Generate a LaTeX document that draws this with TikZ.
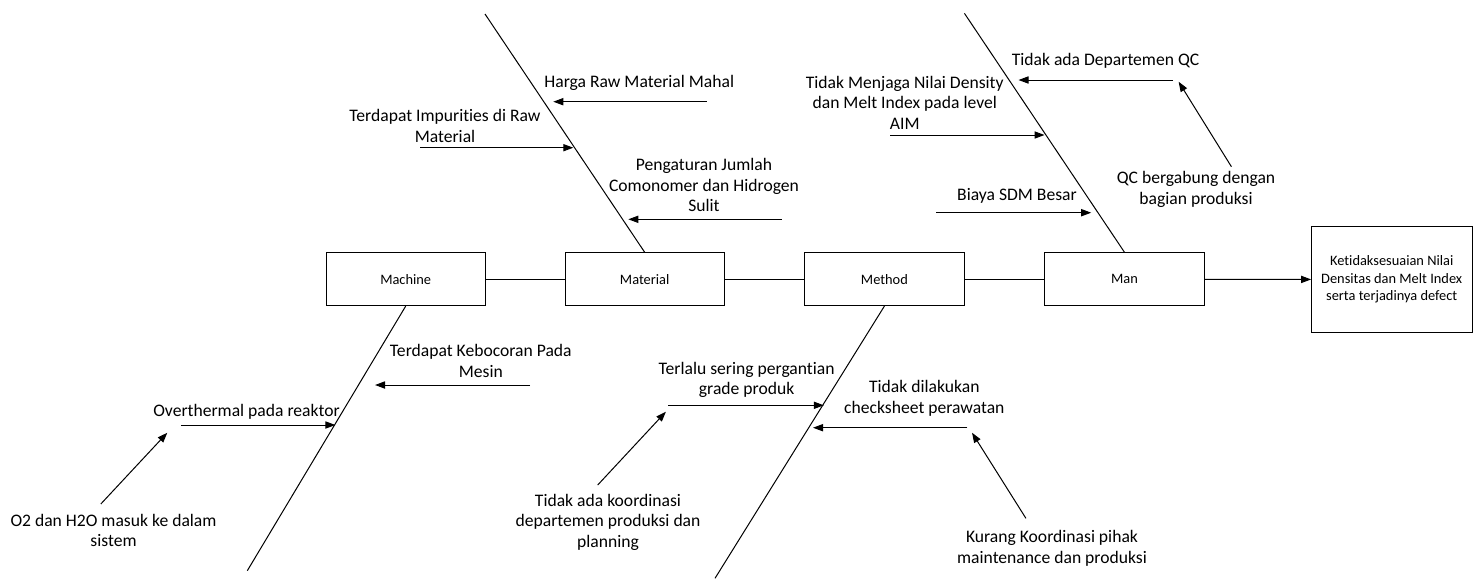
\documentclass[tikz,border=0pt]{standalone}
\usepackage{fontspec}
\setmainfont[Ligatures=CommonOff]{Carlito}
\usetikzlibrary{arrows.meta}

\begin{document}
\begin{tikzpicture}[x=0.5pt,y=-0.5pt,
  box/.style={draw, minimum width=79.8pt, minimum height=26.5pt, inner sep=0pt,
    font=\fontsize{7.2}{8.75}\selectfont},
  cause/.style={align=center, inner sep=0pt, font=\fontsize{8.8}{10.35}\selectfont},
  arr/.style={-{Triangle[length=5pt,width=3.6pt]}, line width=0.5pt}]
  \useasboundingbox (0,0) rectangle (1475,580);

  % head boxes on the main line
  \node[box] (machine) at (405.7,279.2) {Machine};
  \node[box] (material) at (644.7,279.2) {Material};
  \node[box] (method) at (884.4,279.2) {Method};
  \node[box] (man) at (1124.5,279.2) {Man};
  \node[box, minimum height=52.8pt, minimum width=80.2pt, align=center] (effect) at (1391.7,279.5)
    {Ketidaksesuaian Nilai\\Densitas dan Melt Index\\serta terjadinya defect};
  \draw[line width=0.5pt] (machine) -- (material) -- (method) -- (man);
  \draw[arr] (man) -- (effect);

  % bones
  \coordinate (machineEnd) at (247.3,570.7);
  \coordinate (materialEnd) at (485,14);
  \coordinate (methodEnd) at (715,578.3);
  \coordinate (manEnd) at (964.4,13.3);
  \draw[line width=0.5pt] (machine.south) -- (machineEnd);
  \draw[line width=0.5pt] (material.north) -- (materialEnd);
  \draw[line width=0.5pt] (method.south) -- (methodEnd);
  \draw[line width=0.5pt] (man.north) -- (manEnd);

  % Material causes
  \node[cause] (harga) at (639.2,82.7) {Harga Raw Material Mahal};
  \node[cause] (impurities) at (445,126) {Terdapat Impurities di Raw\\Material};
  \node[cause] (pengaturan) at (704,185.2) {Pengaturan Jumlah\\Comonomer dan Hidrogen\\Sulit};
  \coordinate (hargaA) at (706.7,101.7);   \coordinate (hargaB) at (553.3,101.7);
  \coordinate (impA) at (420,147.7);       \coordinate (impB) at (573.3,147.7);
  \coordinate (pengA) at (781.7,219.3);    \coordinate (pengB) at (628.3,219.3);
  \draw[arr] (hargaA) -- (hargaB);
  \draw[arr] (impA) -- (impB);
  \draw[arr] (pengA) -- (pengB);

  % Man causes
  \node[cause] (noqc) at (1105.5,61) {Tidak ada Departemen QC};
  \node[cause] (qcjoin) at (1196,189.2) {QC bergabung dengan\\bagian produksi};
  \node[cause] (menjaga) at (904.7,102.8) {Tidak Menjaga Nilai Density\\dan Melt Index pada level\\AIM};
  \node[cause] (biaya) at (1017,195.7) {Biaya SDM Besar};
  \coordinate (noqcA) at (1173,80);        \coordinate (noqcB) at (1018.5,80);
  \coordinate (qcjoinA) at (1231.4,166.7); \coordinate (qcjoinB) at (1178.6,81.7);
  \coordinate (menjagaA) at (890,135);     \coordinate (menjagaB) at (1044.5,135);
  \coordinate (biayaA) at (936.3,212.7);   \coordinate (biayaB) at (1091.2,212.7);
  \draw[arr] (noqcA) -- (noqcB);
  \draw[arr] (qcjoinA) -- (qcjoinB);
  \draw[arr] (menjagaA) -- (menjagaB);
  \draw[arr] (biayaA) -- (biayaB);

  % Machine causes
  \node[cause] (bocor) at (480.8,360.8) {Terdapat Kebocoran Pada\\Mesin};
  \node[cause] (overthermal) at (246.5,411.7) {Overthermal pada reaktor};
  \node[cause] (oksigen) at (113.5,530.3) {O2 dan H2O masuk ke dalam\\sistem};
  \coordinate (bocorA) at (530,385);       \coordinate (bocorB) at (375,385);
  \coordinate (overA) at (180.8,425);      \coordinate (overB) at (335.4,425);
  \coordinate (oksA) at (100.8,504);       \coordinate (oksB) at (167.3,432.7);
  \draw[arr] (bocorA) -- (bocorB);
  \draw[arr] (overA) -- (overB);
  \draw[arr] (oksA) -- (oksB);

  % Method causes
  \node[cause] (grade) at (746.6,379.8) {Terlalu sering pergantian\\grade produk};
  \node[cause] (checksheet) at (924.3,398) {Tidak dilakukan\\checksheet perawatan};
  \node[cause] (koordinasi) at (608,522.2) {Tidak ada koordinasi\\departemen produksi dan\\planning};
  \node[cause] (kurang) at (1052,548) {Kurang Koordinasi pihak\\maintenance dan produksi};
  \coordinate (gradeA) at (668.4,405.3);   \coordinate (gradeB) at (823.8,405.3);
  \coordinate (checkA) at (967.4,427.7);   \coordinate (checkB) at (813,427.7);
  \coordinate (koorA) at (597.7,485);      \coordinate (koorB) at (665.9,411.7);
  \coordinate (kurangA) at (1025.9,518.3); \coordinate (kurangB) at (972,432.7);
  \draw[arr] (gradeA) -- (gradeB);
  \draw[arr] (checkA) -- (checkB);
  \draw[arr] (koorA) -- (koorB);
  \draw[arr] (kurangA) -- (kurangB);
\end{tikzpicture}
\end{document}
